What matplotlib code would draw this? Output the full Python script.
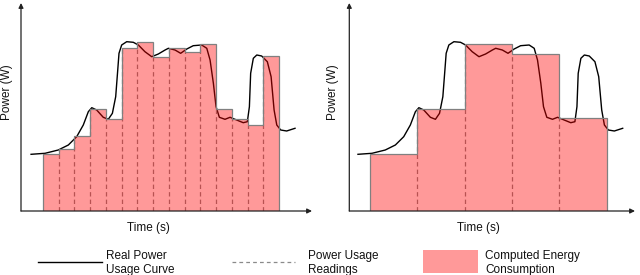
import numpy as np
import matplotlib
matplotlib.use("Agg")
import matplotlib.pyplot as plt
from matplotlib.lines import Line2D
from matplotlib.patches import Rectangle

plt.rcParams['font.family'] = ['Liberation Sans', 'DejaVu Sans']

# real power curve (time in s, power in arbitrary W units)
curve_t = [0.24, 1.13, 1.97, 2.61, 3.14, 3.56, 3.88, 4.10, 4.41, 4.83, 5.15, 5.41,
           5.62, 5.75, 5.83, 6.00, 6.32, 6.74, 7.06, 7.48, 7.91, 8.33, 8.76, 8.97,
           9.39, 9.75, 10.14, 10.55, 11.09, 11.41, 11.62, 11.83, 12.00, 12.21, 12.57,
           12.89, 13.31, 13.73, 13.99, 14.12, 14.20, 14.37, 14.59, 14.90, 15.26,
           15.50, 15.69, 15.86, 16.11, 16.49, 17.02]
curve_p = [56.7, 57.7, 61.0, 66.0, 74.3, 86.0, 99.3, 103.3, 101.0, 93.7, 91.7, 97.7,
           114.3, 141.0, 157.7, 166.0, 169.3, 168.7, 166.0, 159.3, 154.3, 157.0, 161.0,
           162.7, 161.0, 157.7, 162.0, 165.3, 166.0, 162.7, 151.0, 127.7, 104.3, 93.7,
           91.7, 93.7, 91.0, 88.3, 89.3, 104.3, 137.7, 152.7, 156.0, 155.0, 149.3,
           134.3, 101.0, 86.0, 81.0, 80.0, 82.7]

# power readings, one per second (left panel)
read_t = np.arange(1, 16)
read_p = [57, 61.7, 75, 102, 91.7, 163.3, 169.3, 154.3, 163.3, 159.3, 166.7,
          102, 91.7, 86, 155]

# coarser readings, every 3 s (right panel)
coarse_t = [1, 4, 7, 10, 13]
coarse_p = [57, 102, 167, 157, 92.7]

fill_col = (1.0, 0.0, 0.0, 0.4)
edge_col = '#808080'
dash_col = '#8a8a8a'
axis_col = '#222222'

fig = plt.figure(figsize=(6.4, 2.75), dpi=100)
ax1 = fig.add_axes([21 / 640, 64 / 275, 291 / 640, 208 / 275])
ax2 = fig.add_axes([349.3 / 640, 64 / 275, 285.7 / 640, 208 / 275])


def panel(ax, ts, ps, step, xlim):
    edges = list(ts) + [ts[-1] + step]
    ax.plot(curve_t, curve_p, color='black', lw=1.0, zorder=1)
    for t, p in zip(ts[1:], ps[1:]):
        ax.plot([t, t], [0, p], color=dash_col, lw=0.9, ls=(0, (3.5, 2.5)), zorder=1)
    ax.stairs(ps, edges, baseline=0, fill=True, facecolor=fill_col,
              edgecolor='none', zorder=2)
    ax.stairs(ps, edges, baseline=0, fill=False, color=edge_col, lw=0.9, zorder=3)
    ax.set_xlim(*xlim)
    ax.set_ylim(0, 208)
    for s in ax.spines.values():
        s.set_visible(False)
    ax.set_xticks([])
    ax.set_yticks([])
    ax.patch.set_alpha(0)
    ax.annotate('', xy=(1, 0), xytext=(0, 0), xycoords='axes fraction',
                arrowprops=dict(arrowstyle='-|>', color=axis_col, lw=0.9,
                                mutation_scale=7, shrinkA=0, shrinkB=0))
    ax.annotate('', xy=(0, 1), xytext=(0, 0), xycoords='axes fraction',
                arrowprops=dict(arrowstyle='-|>', color=axis_col, lw=0.9,
                                mutation_scale=7, shrinkA=0, shrinkB=0))


panel(ax1, list(read_t), read_p, 1, (-0.40, 18.10))
panel(ax2, coarse_t, coarse_p, 3, (-0.31, 17.80))

fs = 8.5
txt_col = '#111111'
fig.text(7 / 640, 1 - 92 / 275, 'Power (W)', rotation=90, ha='center', va='center',
         fontsize=fs, color=txt_col)
fig.text(333 / 640, 1 - 92 / 275, 'Power (W)', rotation=90, ha='center', va='center',
         fontsize=fs, color=txt_col)
fig.text(148 / 640, 1 - 228 / 275, 'Time (s)', ha='center', va='center',
         fontsize=fs, color=txt_col)
fig.text(478 / 640, 1 - 228 / 275, 'Time (s)', ha='center', va='center',
         fontsize=fs, color=txt_col)

# legend drawn by hand, at the bottom
ly = 1 - 262 / 275
fig.add_artist(Line2D([38 / 640, 102 / 640], [ly, ly], color='black', lw=1.0,
                      transform=fig.transFigure))
fig.add_artist(Line2D([232 / 640, 295 / 640], [ly, ly], color=dash_col, lw=0.9,
                      ls=(0, (3, 2.5)), transform=fig.transFigure))
fig.add_artist(Rectangle((423 / 640, 1 - 273 / 275), 55 / 640, 23 / 275,
                         facecolor=fill_col, edgecolor='none',
                         transform=fig.transFigure))
ty = 1 - 263 / 275
fig.text(106 / 640, ty, 'Real Power\nUsage Curve', ha='left', va='center',
         fontsize=fs, color=txt_col, linespacing=1.3)
fig.text(308 / 640, ty, 'Power Usage\nReadings', ha='left', va='center',
         fontsize=fs, color=txt_col, linespacing=1.3)
fig.text(485 / 640, ty, 'Computed Energy\nConsumption', ha='left', va='center',
         fontsize=fs, color=txt_col, linespacing=1.3)

fig.savefig('out.png', dpi=100)
